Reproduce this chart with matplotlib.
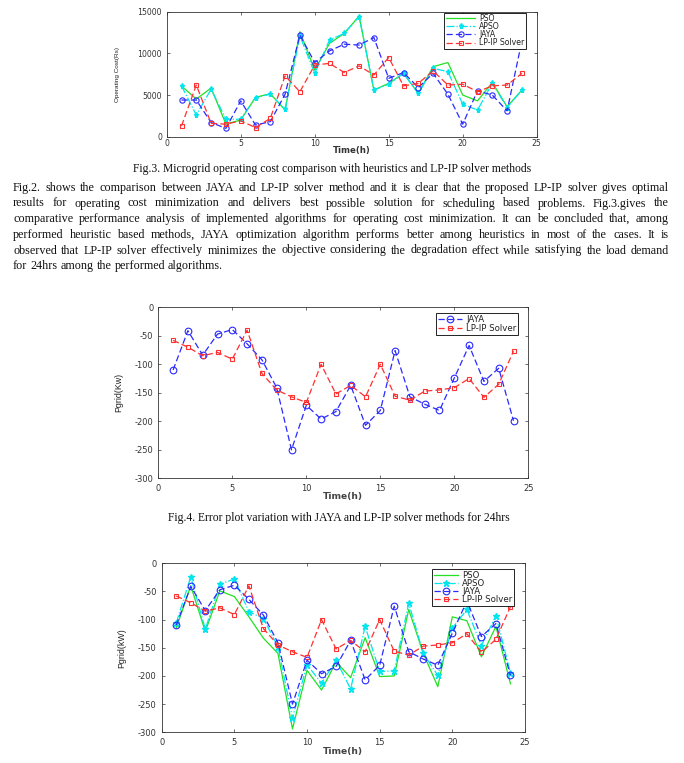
import matplotlib
matplotlib.use('Agg')
import matplotlib.pyplot as plt

plt.rcParams['axes.unicode_minus'] = False

# ---------------- data ----------------
hours = list(range(1, 25))

cost_pso = [6080, 4520, 5840, 1520, 2000, 4720, 5160, 3200, 12600, 8000, 11200, 12400,
            14480, 5600, 6400, 7600, 5200, 8400, 8900, 5000, 4300, 6500, 3600, 5600]
cost_apso = [6100, 2600, 5700, 2100, 2100, 4700, 5100, 3300, 12100, 7600, 11600, 12400,
             14400, 5600, 6300, 7600, 5200, 8200, 7800, 3900, 3200, 6400, 3500, 5600]
cost_jaya = [4400, 4400, 1700, 1000, 4300, 1400, 1800, 5100, 12200, 8900, 10300, 11100,
             11000, 11900, 7000, 7700, 5900, 7600, 5100, 1500, 5500, 5000, 3100, 11500]
cost_lpip = [1300, 6200, 1600, 1500, 1900, 1100, 2200, 7300, 5400, 8600, 8800, 7700,
             8500, 7400, 9500, 6100, 6400, 7900, 6200, 6300, 5400, 6100, 6200, 7600]

pgrid_jaya = [-110, -41, -84, -47, -39, -64, -92, -141, -250, -172, -196, -183,
              -137, -207, -181, -76, -157, -170, -181, -124, -67, -130, -107, -199]
pgrid_lpip = [-58, -70, -85, -79, -91, -40, -116, -145, -157, -167, -100, -152,
              -137, -157, -100, -156, -163, -147, -145, -141, -125, -158, -135, -77]
pgrid_pso = [-115, -40, -121, -49, -59, -95, -133, -160, -294, -190, -225, -175,
             -203, -132, -201, -200, -82, -160, -219, -95, -102, -166, -112, -214]
pgrid_apso = [-106, -24, -117, -37, -28, -86, -98, -148, -275, -180, -213, -172,
              -223, -112, -192, -191, -71, -160, -199, -115, -82, -146, -93, -195]

xticks = [0, 5, 10, 15, 20, 25]
cost_yticks = [0, 5000, 10000, 15000]
pgrid_yticks = [0, -50, -100, -150, -200, -250, -300]

caption3 = "Fig.3. Microgrid operating cost comparison with heuristics and LP-IP solver methods"
caption4 = "Fig.4. Error plot variation with JAYA and LP-IP solver methods for 24hrs"
paragraph = [
    "Fig.2. shows the comparison between JAYA and LP-IP solver method and it is clear that the proposed LP-IP solver gives optimal",
    "results for operating cost minimization and delivers best possible solution for scheduling based problems. Fig.3.gives the",
    "comparative performance analysis of implemented algorithms for operating cost minimization. It can be concluded that, among",
    "performed heuristic based methods, JAYA optimization algorithm performs better among heuristics in most of the cases.   It is",
    "observed that LP-IP solver effectively minimizes the objective considering the degradation effect while satisfying the load demand",
    "for 24hrs among the performed algorithms.",
]

# ---------------- figure ----------------
W, H = 684, 763
fig = plt.figure(figsize=(W / 100, H / 100), dpi=100)
SANS = 'Liberation Sans'
WIDE = 'DejaVu Sans'
SERIF = 'Liberation Serif'
TSIZE = 8.75
CSIZE = 8.4
TXT = '#111111'

C_PSO = '#22e022'
C_APSO = '#00e5ee'
C_JAYA = '#2a2aff'
C_LPIP = '#ff3030'
DASH = (5, 2.5)


def add_ax(l, t, r, b):
    return fig.add_axes([l / W, 1 - b / H, (r - l) / W, (b - t) / H])


def style(ax, lsize, xpad, ypad):
    ax.tick_params(direction='in', top=True, right=True, labelsize=lsize,
                   length=2.5, width=0.5, colors='#333333')
    ax.tick_params(axis='x', pad=xpad)
    ax.tick_params(axis='y', pad=ypad)
    for lab in ax.get_xticklabels() + ax.get_yticklabels():
        lab.set_family(WIDE)
    for s in ax.spines.values():
        s.set_linewidth(0.6)
        s.set_color('#333333')


def plot_set(ax, series, ms=4.2):
    for name, vals in series:
        if name == 'PSO':
            ax.plot(hours, vals, '-', color=C_PSO, lw=0.9, label='PSO')
        elif name == 'APSO':
            ax.plot(hours, vals, '-.', color=C_APSO, lw=0.9, marker='*',
                    ms=ms * 0.95, label='APSO')
        elif name == 'JAYA':
            ax.plot(hours, vals, '--', color=C_JAYA, lw=0.9, marker='o', dashes=DASH,
                    ms=ms, mfc='none', mew=0.8, label='JAYA')
        else:
            ax.plot(hours, vals, '--', color=C_LPIP, lw=0.9, marker='s', dashes=DASH,
                    ms=ms * 0.72, mfc='none', mew=0.8, label='LP-IP Solver')


def make_legend(ax, right_px, top_px, axbox, size, spacing, hl):
    l, t, r, b = axbox
    ax_x = (right_px - l) / (r - l)
    ax_y = 1 - (top_px - t) / (b - t)
    leg = ax.legend(loc='upper right', bbox_to_anchor=(ax_x, ax_y),
                    prop={'family': WIDE, 'size': size}, fancybox=False,
                    edgecolor='black', framealpha=1, borderpad=0.2,
                    labelspacing=spacing, handlelength=hl, handletextpad=0.5,
                    borderaxespad=0.0)
    leg.get_frame().set_linewidth(0.6)
    for t_ in leg.get_texts():
        t_.set_color('#222222')
    return leg


# ---- Fig.3 ----
box1 = (166.7, 11.7, 536.7, 136.7)
ax1 = add_ax(*box1)
plot_set(ax1, [('PSO', cost_pso), ('APSO', cost_apso), ('JAYA', cost_jaya), ('LP-IP Solver', cost_lpip)], ms=3.8)
ax1.set_xlim(0, 25)
ax1.set_ylim(0, 15000)
ax1.set_xticks(xticks)
ax1.set_yticks(cost_yticks)
style(ax1, 5.6, 1.5, 3.4)
ax1.set_xlabel('Time(h)', family=WIDE, size=6.2, fontweight='bold', color='#333333')
ax1.xaxis.set_label_coords(0.5, -(146.5 - 136.7) / 125)
ax1.set_ylabel('Operating Cost(Rs)', family=SANS, size=4.6, color='#222222')
ax1.yaxis.set_label_coords((120 - 166.7) / 370, 0.5)
make_legend(ax1, 526, 12.5, box1, 5.6, -0.12, 3.8)

# ---- captions & paragraph ----
fig.text(332 / W, 1 - 169 / H, caption3, ha='center', va='center', family=SERIF, size=CSIZE, color=TXT)

renderer = fig.canvas.get_renderer()
left_px, right_px = 13, 669
line_y = [188, 203.5, 219, 235, 250.5, 266]


def text_w(t):
    return t.get_window_extent(renderer).width


sp_a = fig.text(0, 0, 'a a', family=SERIF, size=TSIZE)
sp_b = fig.text(0, 0, 'aa', family=SERIF, size=TSIZE)
space_w = text_w(sp_a) - text_w(sp_b)
sp_a.remove()
sp_b.remove()

for i, line in enumerate(paragraph):
    words = line.split()
    objs = [fig.text(0, 1 - line_y[i] / H, w, family=SERIF, size=TSIZE, va='center',
                     ha='left', color=TXT) for w in words]
    widths = [text_w(o) for o in objs]
    last = (i == len(paragraph) - 1)
    if last or len(words) == 1:
        gap = space_w
    else:
        gap = max((right_px - left_px - sum(widths)) / (len(words) - 1), space_w * 0.8)
    x = left_px
    for o, w in zip(objs, widths):
        o.set_x(x / W)
        x += w + gap

# ---- Fig.4 ----
box2 = (158.3, 307.3, 528.3, 478.3)
ax2 = add_ax(*box2)
plot_set(ax2, [('JAYA', pgrid_jaya), ('LP-IP Solver', pgrid_lpip)], ms=4.8)
ax2.set_xlim(0, 25)
ax2.set_ylim(-300, 0)
ax2.set_xticks(xticks)
ax2.set_yticks(pgrid_yticks)
style(ax2, 6.0, 4.0, 3.6)
ax2.set_xlabel('Time(h)', family=WIDE, size=6.6, fontweight='bold', color='#444444')
ax2.xaxis.set_label_coords(0.5, -(492 - 478.3) / 171)
ax2.set_ylabel('Pgrid(Kw)', family=SANS, size=6.4, color='#222222')
ax2.yaxis.set_label_coords((123.5 - 158.3) / 370, 0.5)
make_legend(ax2, 518, 313, box2, 6.2, 0.05, 2.8)

fig.text(339 / W, 1 - 518 / H, caption4, ha='center', va='center', family=SERIF, size=CSIZE, color=TXT)

# ---- Fig.5 ----
box3 = (161.7, 563.3, 525, 732.3)
ax3 = add_ax(*box3)
plot_set(ax3, [('PSO', pgrid_pso), ('APSO', pgrid_apso), ('JAYA', pgrid_jaya), ('LP-IP Solver', pgrid_lpip)], ms=4.8)
ax3.set_xlim(0, 25)
ax3.set_ylim(-300, 0)
ax3.set_xticks(xticks)
ax3.set_yticks(pgrid_yticks)
style(ax3, 6.0, 4.0, 3.6)
ax3.set_xlabel('Time(h)', family=WIDE, size=6.6, fontweight='bold', color='#444444')
ax3.xaxis.set_label_coords(0.5, -(747 - 732.3) / 169)
ax3.set_ylabel('Pgrid(kW)', family=SANS, size=6.4, color='#222222')
ax3.yaxis.set_label_coords((126 - 161.7) / 363.3, 0.5)
make_legend(ax3, 514, 569, box3, 6.2, -0.1, 2.8)

fig.savefig('out.png', dpi=100)
